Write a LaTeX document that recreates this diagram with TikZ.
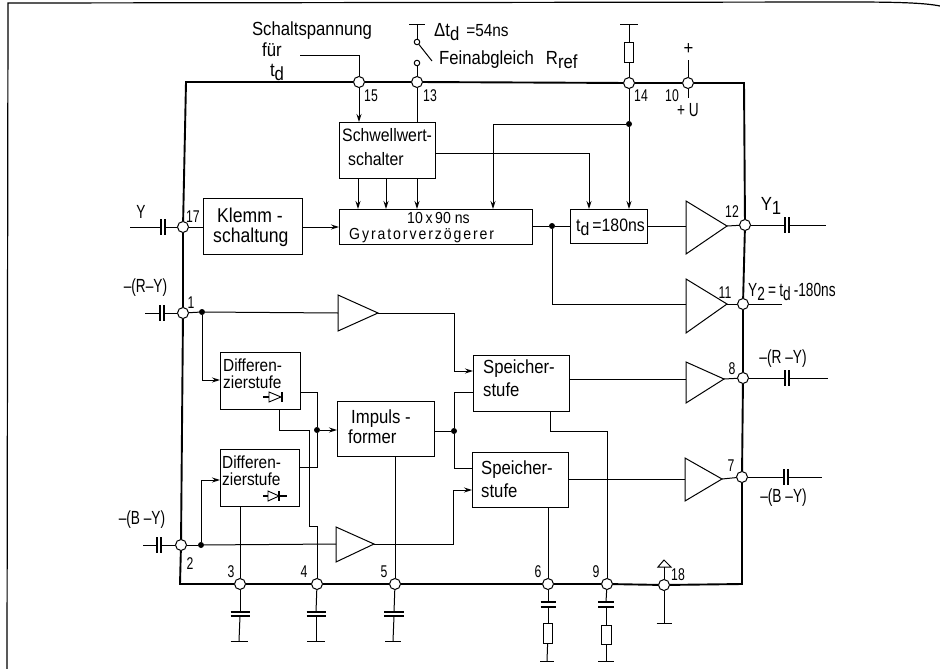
\documentclass[tikz,border=0pt]{standalone}
\usepackage{fontspec}
\setmainfont[FakeStretch=0.88]{Liberation Sans}
\newfontfamily\narrowfont[FakeStretch=0.72]{Liberation Sans}
\usetikzlibrary{arrows.meta,calc}
\newcommand{\tsub}[1]{\raisebox{-4pt}{#1}}
\tikzset{
  wire/.style={line width=1pt,line join=miter},
  arr/.style={wire,-{Stealth[length=8pt,width=5pt]}},
  border/.style={line width=1.9pt,line join=miter},
  pin/.style={circle,draw,line width=1pt,fill=white,minimum size=11pt,inner sep=0pt},
  tinypin/.style={circle,draw,line width=1pt,fill=white,minimum size=5.5pt,inner sep=0pt},
  dotn/.style={circle,fill=black,minimum size=6pt,inner sep=0pt},
  lbl/.style={inner sep=0pt,font=\fontsize{19}{22}\selectfont},
  nlbl/.style={inner sep=0pt,font=\narrowfont\fontsize{19}{22}\selectfont},
  num/.style={inner sep=0pt,font=\narrowfont\fontsize{17}{18}\selectfont},
  blockbox/.style={draw,line width=1.1pt,anchor=north west,inner sep=0pt},
  btext/.style={inner sep=0pt,anchor=west,align=left},
  capplate/.style={line width=1.2pt},
  resbox/.style={draw,line width=1pt,fill=white,inner sep=0pt,anchor=center},
}
\newcommand{\blockn}[5]{\node[blockbox,minimum width=#4pt-#2pt,minimum height=#5pt-#3pt] (#1) at (#2,#3) {};}
% amplifier: name, xleft, ytop, ybot, xtip, ytip
\newcommand{\ampl}[6]{\draw[wire,line join=miter] (#2,#3) -- (#5,#6) -- (#2,#4) -- cycle;
  \coordinate (#1-w) at (#2,#6); \coordinate (#1-t) at (#5,#6);}
% horizontal series cap: name, x, y
\newcommand{\hcap}[3]{\draw[capplate] (#2-2,#3-8) -- (#2-2,#3+8) (#2+2,#3-8) -- (#2+2,#3+8);
  \coordinate (#1-l) at (#2-2,#3); \coordinate (#1-r) at (#2+2,#3);}
% vertical cap: name, x, y, half width, gap
\newcommand{\vcap}[5]{\draw[capplate] (#2-#4,#3) -- (#2+#4,#3) (#2-#4,#3+#5) -- (#2+#4,#3+#5);
  \coordinate (#1-u) at (#2,#3); \coordinate (#1-d) at (#2,#3+#5);}
% bar (ground): name, x, y, half width
\newcommand{\gnd}[4]{\draw[wire] (#2-#4,#3) -- (#2+#4,#3); \coordinate (#1) at (#2,#3);}
\begin{document}
\begin{tikzpicture}[x=1pt,y=-1pt]
\useasboundingbox (0,0) rectangle (940,669);
% scan frame
\draw[line width=1.2pt] (7,669) -- (8,3) -- (850,2) .. controls (900,2) and (925,3) .. (940,6);

% --- pins
\node[pin] (p15) at (359,82) {};
\node[pin] (p13) at (417,82) {};
\node[pin] (p14) at (629,83) {};
\node[pin] (p10) at (688,83) {};
\node[pin] (p17) at (183,227) {};
\node[pin] (p1) at (183,313) {};
\node[pin] (p2) at (181,545) {};
\node[pin] (p3) at (240,584) {};
\node[pin] (p4) at (317,584) {};
\node[pin] (p5) at (395,584) {};
\node[pin] (p6) at (548,584) {};
\node[pin] (p9) at (607,584) {};
\node[pin] (p18) at (664,585) {};
\node[pin] (p7) at (742,477) {};
\node[pin] (p8) at (743,378) {};
\node[pin] (p11) at (743,304) {};
\node[pin] (p12) at (745,225) {};

% --- IC border
\draw[border] (p15) -- (p13);
\draw[border] (p13) -- (p14);
\draw[border] (p14) -- (p10);
\draw[border] (p15) -- (186,82) -- (p17);
\draw[border] (p17) -- (p1);
\draw[border] (p1) -- (p2);
\draw[border] (p2) -- (180,584) -- (p3);
\draw[border] (p3) -- (p4);
\draw[border] (p4) -- (p5);
\draw[border] (p5) -- (p6);
\draw[border] (p6) -- (p9);
\draw[border] (p9) -- (p18);
\draw[border] (p18) -- (742,584) -- (p7);
\draw[border] (p7) -- (p8);
\draw[border] (p8) -- (p11);
\draw[border] (p11) -- (p12);
\draw[border] (p12) -- (744,83) -- (p10);

% --- blocks
\blockn{sw}{339}{122}{435}{178}
\node[btext,font=\fontsize{18}{24}\selectfont] (swt) at (342,147) {Schwellwert-\\\hspace*{6pt}schalter};
\blockn{gy}{339}{209}{532}{244}
\node[btext,font=\fontsize{16}{15}\selectfont] (gyt1) at (407,218) {10\,x\,90 ns};
\node[btext,font=\fontsize{16}{15}\addfontfeature{LetterSpace=12}\selectfont] (gyt2) at (349,236) {Gyratorverzögerer};
\blockn{kl}{203}{198}{302}{254}
\node[btext,font=\fontsize{20}{20}\selectfont] (klt) at (213,227) {\hspace*{4pt}Klemm -\\schaltung};
\blockn{td}{570}{209}{647}{243}
\node[btext,font=\fontsize{18}{20}\selectfont] (tdt) at (576,227) {t\tsub{d}\,=180ns};
\blockn{d1}{220}{352}{300}{409}
\node[btext,font=\fontsize{17.5}{17.5}\selectfont] (d1t) at (223,373.5) {Differen-\\zierstufe};
\blockn{d2}{220}{449}{299}{506}
\node[btext,font=\fontsize{17.5}{17.5}\selectfont] (d2t) at (222,470.5) {Differen-\\zierstufe};
\blockn{im}{337}{401}{434}{456}
\node[btext,font=\fontsize{19}{20}\selectfont] (imt) at (348,427) {\hspace*{3pt}Impuls -\\former};
\blockn{s1}{473}{355}{569}{411}
\node[btext,font=\fontsize{19}{23}\selectfont] (s1t) at (483,378.5) {Speicher-\\stufe};
\blockn{s2}{472}{452}{568}{507}
\node[btext,font=\fontsize{19}{23}\selectfont] (s2t) at (481,479) {Speicher-\\stufe};

% diodes in the Differenzierstufen
\draw[line width=0.9pt,fill=white] (269,392) -- (281,397) -- (269,402) -- cycle;
\draw[line width=1.1pt] (263,397) -- (269,397) (282,392) -- (282,402);
\draw[line width=0.9pt,fill=white] (268,491) -- (279,496) -- (268,501) -- cycle;
\draw[line width=1.1pt] (263,496) -- (268,496) (279,491) -- (279,501) (279,496) -- (287,496);

% --- amplifiers
\ampl{a12}{686}{201}{254}{727}{226}
\ampl{a11}{686}{279}{333}{727}{304}
\ampl{a8}{686}{362}{403}{724}{379}
\ampl{a7}{685}{458}{501}{722}{479}
\ampl{a1}{338}{295}{331}{378}{313}
\ampl{a2}{336}{527}{562}{374}{544}

% --- dots
\node[dotn] (dg) at (552,226) {};
\node[dotn] (dr) at (629,124) {};
\node[dotn] (d1in) at (202,312) {};
\node[dotn] (d2in) at (201,545) {};
\node[dotn] (dim) at (317,430) {};
\node[dotn] (dsp) at (454,431) {};

% --- top
\coordinate (swfree) at (300,56);
\draw[wire] (swfree) -- (p15 |- swfree) -- (p15);
\draw[arr] (p15) -- (p15 |- sw.north);
\draw[wire] (p13) -- (p13 |- sw.north);
\node[tinypin] (sa) at (417,63) {};
\node[tinypin] (sb) at (417,42) {};
\draw[wire] (p13) -- (sa);
\coordinate (stop) at (417,25);
\draw[wire] (409,25) -- (425,25);
\draw[wire] (stop) -- (sb);
\coordinate (swend) at (432,61);
\draw[wire] (sb) -- (swend);
% schwellwert outputs
\coordinate (gy1) at (358,209); \coordinate (gy2) at (386,209); \coordinate (gy3) at (417,209);
\draw[arr] (sw.south -| gy1) -- (gy1);
\draw[arr] (sw.south -| gy2) -- (gy2);
\draw[arr] (sw.south -| gy3) -- (gy3);
\coordinate (swr) at (435,153);
\coordinate (tdin) at (589,209);
\draw[arr] (swr) -- (tdin |- swr) -- (tdin);
\coordinate (gyin) at (493,209);
\draw[arr] (dr) -- (493,124) -- (gyin);
% pin 14
\gnd{g14}{629}{25}{9}
\node[resbox,minimum width=8.5pt,minimum height=20pt] (r14) at (629,53) {};
\draw[wire] (g14) -- (r14);
\draw[wire] (r14) -- (p14);
\coordinate (tdin2) at (629,209);
\draw[wire] (p14) -- (dr);
\draw[arr] (dr) -- (tdin2);
% pin 10
\coordinate (u1) at (688,60); \coordinate (u2) at (688,98);
\draw[wire] (p10) -- (u1);
\draw[wire] (p10) -- (u2);

% --- middle row
\hcap{cy}{163}{227}
\coordinate (yfree) at (130,227);
\draw[wire] (yfree) -- (cy-l);
\draw[wire] (cy-r) -- (p17);
\draw[wire] (p17) -- (kl.west |- p17);
\draw[arr] (kl.east |- p17) -- (gy.west |- p17);
\draw[wire] (gy.east |- dg) -- (dg);
\draw[wire] (dg) -- (td.west |- dg);
\draw[wire] (td.east |- a12-w) -- (a12-w);
\draw[wire] (a12-t) -- (p12);
\hcap{c12}{787}{225}
\draw[wire] (p12) -- (c12-l);
\coordinate (y1e) at (826,225);
\draw[wire] (c12-r) -- (y1e);
\draw[wire] (dg) -- (dg |- a11-w) -- (a11-w);
\draw[wire] (a11-t) -- (p11);
\coordinate (y2e) at (782,304);
\draw[wire] (p11) -- (y2e);

% --- right outputs
\draw[wire] (s1.east |- a8-w) -- (a8-w);
\draw[wire] (a8-t) -- (p8);
\hcap{c8}{787}{378}
\draw[wire] (p8) -- (c8-l);
\coordinate (r8) at (828,378);
\draw[wire] (c8-r) -- (r8);
\draw[wire] (s2.east |- a7-w) -- (a7-w);
\draw[wire] (a7-t) -- (p7);
\hcap{c7}{786}{477}
\draw[wire] (p7) -- (c7-l);
\coordinate (r7) at (822,477);
\draw[wire] (c7-r) -- (r7);

% --- left inputs
\hcap{c1}{162}{313}
\coordinate (l1) at (145,313);
\draw[wire] (l1) -- (c1-l);
\draw[wire] (c1-r) -- (p1);
\draw[wire] (p1) -- (d1in);
\draw[wire] (d1in) -- (a1-w);
\coordinate (d1w) at (220,380);
\draw[arr] (d1in) -- (d1in |- d1w) -- (d1w);
\coordinate (s1a) at (473,371);
\draw[arr] (a1-t) -- (454,313) -- (454,371) -- (s1a);

\hcap{c2}{159}{545}
\coordinate (l2) at (143,545);
\draw[wire] (l2) -- (c2-l);
\draw[wire] (c2-r) -- (p2);
\draw[wire] (p2) -- (d2in);
\draw[wire] (d2in) -- (a2-w);
\coordinate (d2w) at (220,480);
\draw[arr] (d2in) -- (d2in |- d2w) -- (d2w);
\coordinate (s2a) at (472,490);
\draw[arr] (a2-t) -- (453,544) -- (453,490) -- (s2a);

% --- Differenzierstufen to Impulsformer
\coordinate (d1r) at (300,392); \coordinate (d2r) at (299,467);
\draw[wire] (d1r) -- (dim |- d1r) -- (dim);
\draw[wire] (d2r) -- (dim |- d2r) -- (dim);
\draw[arr] (dim) -- (im.west |- dim);
\coordinate (d1b) at (279,409);
\draw[wire] (d1b) -- (279,430) -- (309,430) -- (309,526) -- (317,526) -- (p4);
\draw[wire] (im.east |- dsp) -- (dsp);
\coordinate (s1b) at (473,392); \coordinate (s2b) at (472,468);
\draw[wire] (dsp) -- (dsp |- s1b) -- (s1b);
\draw[wire] (dsp) -- (dsp |- s2b) -- (s2b);

% --- down to pins
\draw[wire] (d2.south -| p3) -- (p3);
\draw[wire] (im.south -| p5) -- (p5);
\draw[wire] (s2.south -| p6) -- (p6);
\coordinate (s1d) at (550,411);
\draw[wire] (s1d) -- (550,431) -- (607,431) -- (p9);

% --- below pins
\vcap{c3}{240}{612}{9.5}{4}
\gnd{g3}{239}{641}{8.5}
\draw[wire] (p3) -- (c3-u); \draw[wire] (c3-d) -- (g3);
\vcap{c4}{316}{612}{9.5}{4}
\gnd{g4}{316}{641}{9}
\draw[wire] (p4) -- (c4-u); \draw[wire] (c4-d) -- (g4);
\vcap{c5}{394}{612}{10}{4}
\gnd{g5}{393}{641}{8}
\draw[wire] (p5) -- (c5-u); \draw[wire] (c5-d) -- (g5);
\vcap{c6}{548}{602}{7.5}{5}
\node[resbox,minimum width=8.5pt,minimum height=20pt] (r6) at (548,633) {};
\gnd{g6}{547}{661}{7}
\draw[wire] (p6) -- (c6-u); \draw[wire] (c6-d) -- (r6); \draw[wire] (r6) -- (g6);
\vcap{c9}{606}{602}{8}{5}
\node[resbox,minimum width=10pt,minimum height=19pt] (r9) at (606,634.5) {};
\gnd{g9}{606}{661}{8}
\draw[wire] (p9) -- (c9-u); \draw[wire] (c9-d) -- (r9); \draw[wire] (r9) -- (g9);
\gnd{g18}{664}{623}{7.5}
\draw[wire] (p18) -- (g18);
\coordinate (ar18) at (664,560);
\draw[wire] (p18) -- (664,567);
\draw[wire] (658,567) -- (ar18) -- (671,567) -- cycle;

% --- pin numbers
\node[num] (n15) at (371,96) {15};
\node[num] (n13) at (430,96) {13};
\node[num] (n14) at (641,96) {14};
\node[num] (n10) at (672,96) {10};
\node[num] (n17) at (193,217) {17};
\node[num] (n1) at (191,303) {1};
\node[num] (n2) at (190,564) {2};
\node[num] (n3) at (231,572) {3};
\node[num] (n4) at (304,572) {4};
\node[num] (n5) at (384,572) {5};
\node[num] (n6) at (538,572) {6};
\node[num] (n9) at (596,572) {9};
\node[num] (n18) at (678,575) {18};
\node[num] (n7) at (731,466) {7};
\node[num] (n8) at (732,369) {8};
\node[num] (n11) at (725,293) {11};
\node[num] (n12) at (732,212) {12};

% --- labels
\node[lbl] (tsp) at (312,31) {Schaltspannung};
\node[lbl] (tfu) at (272,50) {für};
\node[lbl] (ttd) at (277,72) {t\tsub{d}};
\node[lbl,anchor=west] (tdl) at (434,32) {Δt\tsub{d}\hspace{7pt}\fontsize{17.5}{20}\selectfont =54ns};
\node[lbl,anchor=west] (tfa) at (439,60) {Feinabgleich\hspace{12pt}R\tsub{ref}};
\node[lbl] (tpl) at (688.5,49) {+};
\node[nlbl] (tu) at (688,110) {+ U};
\node[nlbl] (ty) at (141,212) {Y};
\node[lbl] (ty1) at (771,206) {Y\tsub{1}};
\node[nlbl,anchor=west] (ty2) at (748,292) {Y\tsub{2}\,=\,t\tsub{d}\,-180ns};
\node[nlbl] (trm) at (783,359) {–(R –Y)};
\node[nlbl] (tbm) at (783.5,498) {–(B –Y)};
\node[nlbl] (trl) at (145.5,288) {–(R–Y)};
\node[nlbl] (tbl) at (142,520) {–(B –Y)};
\end{tikzpicture}
\end{document}
